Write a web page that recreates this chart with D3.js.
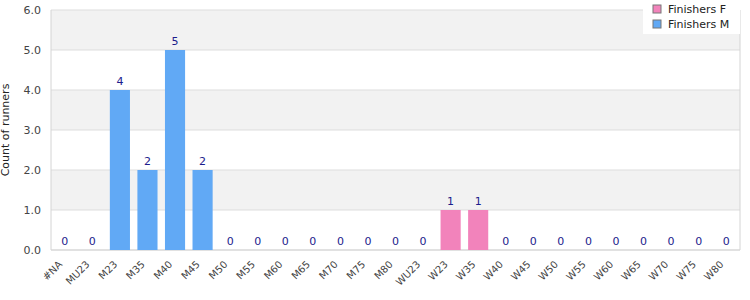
<!DOCTYPE html>
<html>
<head>
<meta charset="utf-8">
<script src="https://cdn.jsdelivr.net/npm/d3@7"></script>
<style>
  body { margin: 0; background: #fff; }
  text { font-family: "DejaVu Sans", sans-serif; }
</style>
</head>
<body>
<div id="chart"></div>
<script>
// カテゴリとシリーズ
const categories = ['#NA', 'MU23', 'M23', 'M35', 'M40', 'M45', 'M50', 'M55', 'M60', 'M65', 'M70', 'M75', 'M80',
  'WU23', 'W23', 'W35', 'W40', 'W45', 'W50', 'W55', 'W60', 'W65', 'W70', 'W75', 'W80'];
const finishersF = [0, 0, 0, 0, 0, 0, 0, 0, 0, 0, 0, 0, 0, 0, 1, 1, 0, 0, 0, 0, 0, 0, 0, 0, 0];
const finishersM = [0, 0, 4, 2, 5, 2, 0, 0, 0, 0, 0, 0, 0, 0, 0, 0, 0, 0, 0, 0, 0, 0, 0, 0, 0];
const yTicks = [0, 1, 2, 3, 4, 5, 6];
const seriesNames = ['Finishers F', 'Finishers M'];
const colors = ['#f283bb', '#61a9f5'];

// svg領域設定
const svgWidth = 750;
const svgHeight = 300;
const svg = d3.select('#chart')
  .append('svg')
  .attr('width', svgWidth)
  .attr('height', svgHeight);

const margin = { top: 10, right: 10, bottom: 50, left: 51 };
const width = svgWidth - margin.left - margin.right;
const height = svgHeight - margin.top - margin.bottom;
const graph = svg.append('g')
  .attr('transform', `translate(${margin.left},${margin.top})`);

const xScale = d3.scaleBand().domain(categories).range([0, width]).paddingInner(0.27).paddingOuter(0.135);
const yScale = d3.scaleLinear().domain([0, 6]).range([height, 0]);

// 背景の帯
graph.selectAll('rect.band')
  .data(yTicks.slice(0, -1))
  .enter()
  .append('rect')
  .attr('class', 'band')
  .attr('x', 0)
  .attr('y', d => yScale(d + 1))
  .attr('width', width)
  .attr('height', d => yScale(d) - yScale(d + 1))
  .attr('fill', d => d % 2 === 1 ? '#f2f2f2' : '#fff');

// グリッド線
graph.selectAll('line.grid')
  .data(yTicks)
  .enter()
  .append('line')
  .attr('x1', 0)
  .attr('x2', width)
  .attr('y1', d => yScale(d))
  .attr('y2', d => yScale(d))
  .attr('stroke', '#dddddd');

// 枠線
graph.append('line').attr('x1', 0).attr('x2', 0).attr('y1', 0).attr('y2', height).attr('stroke', '#d4d4d4');
graph.append('line').attr('x1', width).attr('x2', width).attr('y1', 0).attr('y2', height).attr('stroke', '#d4d4d4');
graph.append('line').attr('x1', 0).attr('x2', width).attr('y1', height).attr('y2', height).attr('stroke', '#d4d4d4');

// y軸
const yAxis = graph.append('g')
  .call(d3.axisLeft(yScale).tickValues(yTicks).tickFormat(d3.format('.1f')).tickSize(0).tickPadding(10));
yAxis.select('.domain').remove();
yAxis.selectAll('text').attr('fill', '#444').style('font-size', '11px');

svg.append('text')
  .attr('transform', `translate(9,${margin.top + height / 2}) rotate(-90)`)
  .attr('text-anchor', 'middle')
  .attr('fill', '#222')
  .style('font-size', '11px')
  .text('Count of runners');

// x軸
const xAxis = graph.append('g')
  .attr('transform', `translate(0,${height})`)
  .call(d3.axisBottom(xScale).tickSize(0).tickPadding(0));
xAxis.select('.domain').remove();
xAxis.selectAll('text')
  .attr('fill', '#444')
  .style('font-size', '10px')
  .attr('text-anchor', 'end')
  .attr('dy', '0')
  .attr('transform', 'translate(-2,15) rotate(-45)');

// 棒の作成
const rows = categories.map((c, i) => ({ cat: c, f: finishersF[i], m: finishersM[i] }));
const stack = d3.stack().keys(['f', 'm'])(rows);
graph.selectAll('g.series')
  .data(stack)
  .enter()
  .append('g')
  .attr('fill', (d, i) => colors[i])
  .selectAll('rect')
  .data(d => d)
  .enter()
  .append('rect')
  .attr('x', d => xScale(d.data.cat))
  .attr('y', d => yScale(d[1]))
  .attr('width', xScale.bandwidth())
  .attr('height', d => yScale(d[0]) - yScale(d[1]));

// 値ラベル
graph.selectAll('text.value')
  .data(rows)
  .enter()
  .append('text')
  .attr('class', 'value')
  .attr('x', d => xScale(d.cat) + xScale.bandwidth() / 2)
  .attr('y', d => yScale(d.f + d.m) - 5)
  .attr('text-anchor', 'middle')
  .attr('fill', '#1c1c8c')
  .style('font-size', '11px')
  .text(d => d.f + d.m);

// 凡例
const legend = svg.append('g').attr('transform', 'translate(643,0)');
legend.append('rect').attr('width', 97).attr('height', 34).attr('fill', '#fff');
seriesNames.forEach((name, i) => {
  const item = legend.append('g').attr('transform', `translate(10,${5 + i * 15})`);
  item.append('rect').attr('width', 8).attr('height', 8)
    .attr('fill', colors[i]).attr('stroke', '#777').attr('stroke-width', 1);
  item.append('text').attr('x', 15).attr('y', 8)
    .attr('fill', '#222').style('font-size', '11px').text(name);
});
</script>
</body>
</html>
